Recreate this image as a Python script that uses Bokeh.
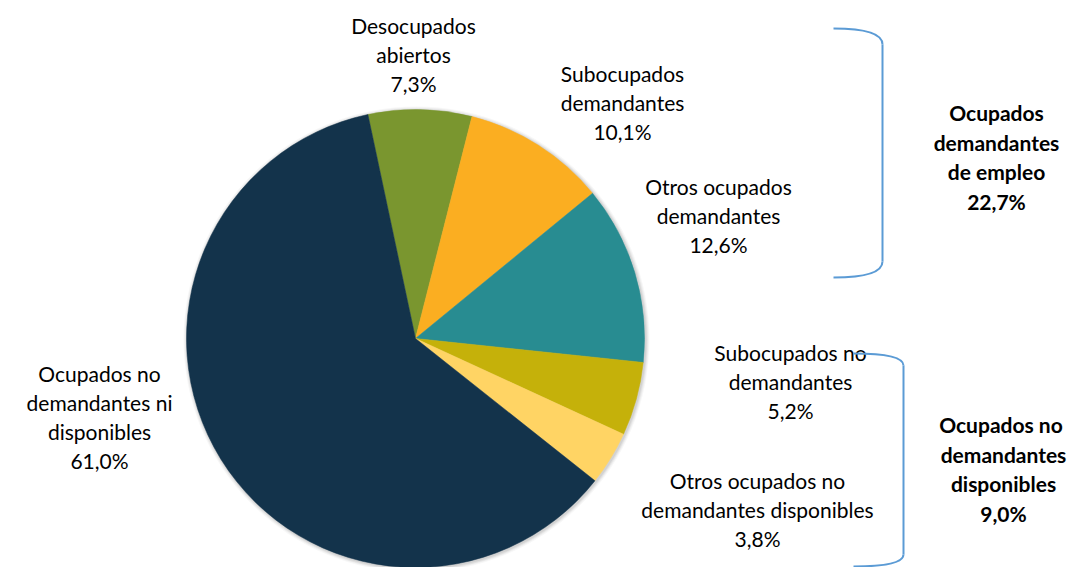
import math
from bokeh.plotting import figure
from bokeh.models import Range1d
from bokeh.core.properties import value
from bokeh.embed import file_html
from bokeh.resources import INLINE

# ---- data ----
categories = [
    "Desocupados abiertos",
    "Subocupados demandantes",
    "Otros ocupados demandantes",
    "Subocupados no demandantes",
    "Otros ocupados no demandantes disponibles",
    "Ocupados no demandantes ni disponibles",
]
values = [7.3, 10.1, 12.6, 5.2, 3.8, 61.0]
colors = ["#7A962F", "#FBAE21", "#288C91", "#C5B10A", "#FFD464", "#13334B"]
label_lines = [
    ["Desocupados", "abiertos"],
    ["Subocupados", "demandantes"],
    ["Otros ocupados", "demandantes"],
    ["Subocupados no", "demandantes"],
    ["Otros ocupados no", "demandantes disponibles"],
    ["Ocupados no", "demandantes ni", "disponibles"],
]
group_lines = [["Ocupados", "demandantes", "de empleo"],
               ["Ocupados  no", "demandantes", "disponibles"]]
group_values = [22.7, 9.0]

# ---- layout (reference pixel coords, y downward) ----
W, H = 1075, 567
REF_H = 567
def Y(yref):
    return REF_H - yref

cx, cy, R = 415, 338, 229
start_deg = -12.0  # clockwise from 12 o'clock

label_pos = [(413, 25), (622, 73), (718, 186), (790, 352), (757, 480), (99, 373)]
label_step = 29
group_pos = [(996, 112), (1003, 424)]
group_step = 29.5

FONT = "Lato"

p = figure(width=W, height=H, output_backend="svg", toolbar_location=None,
           x_range=Range1d(0, W), y_range=Range1d(REF_H - H, REF_H),
           min_border=0)
p.axis.visible = False
p.grid.visible = False
p.outline_line_color = None
p.background_fill_color = "white"

# soft shadow
for k, a in [(4, 0.03), (3, 0.04), (2, 0.05), (1, 0.06)]:
    p.circle(x=[cx + 1], y=[Y(cy) - 1], radius=R + k, fill_color="#000000",
             fill_alpha=a, line_color=None)

total = sum(values)
ang = start_deg
for v, c in zip(values, colors):
    a0 = ang
    a1 = ang + v / total * 360.0
    ang = a1
    p.wedge(x=[cx], y=[Y(cy)], radius=R,
            start_angle=math.radians(90 - a1), end_angle=math.radians(90 - a0),
            fill_color=c, line_color=c, line_width=0.5)

def fmt(v):
    return f"{v:.1f}".replace(".", ",") + "%"

for lines, v, (lx, ly) in zip(label_lines, values, label_pos):
    txt = lines + [fmt(v)]
    xs = [lx] * len(txt)
    ys = [Y(ly + i * label_step) for i in range(len(txt))]
    p.text(x=xs, y=ys, text=txt, text_font=value(FONT), text_font_size="21px",
           text_color="#000000", text_align="center", text_baseline="middle")

for lines, v, (lx, ly) in zip(group_lines, group_values, group_pos):
    txt = lines + [fmt(v)]
    xs = [lx] * len(txt)
    ys = [Y(ly + i * group_step) for i in range(len(txt))]
    p.text(x=xs, y=ys, text=txt, text_font=value(FONT), text_font_size="21px",
           text_font_style="bold", text_color="#000000", text_align="center",
           text_baseline="middle")

# brackets
BC = "#5B9BD5"
def bracket(x0, xv, ytop, ybot, r):
    p.quadratic(x0=[x0], y0=[Y(ytop)], x1=[xv], y1=[Y(ytop + r)], cx=[xv], cy=[Y(ytop)],
                line_color=BC, line_width=2)
    p.segment(x0=[xv], y0=[Y(ytop + r)], x1=[xv], y1=[Y(ybot - r)], line_color=BC, line_width=2)
    p.quadratic(x0=[xv], y0=[Y(ybot - r)], x1=[x0], y1=[Y(ybot)], cx=[xv], cy=[Y(ybot)],
                line_color=BC, line_width=2)

bracket(833, 882, 28, 277, 16)
bracket(853, 903, 353, 566, 12)

open("out.html", "w").write(file_html(p, INLINE))
